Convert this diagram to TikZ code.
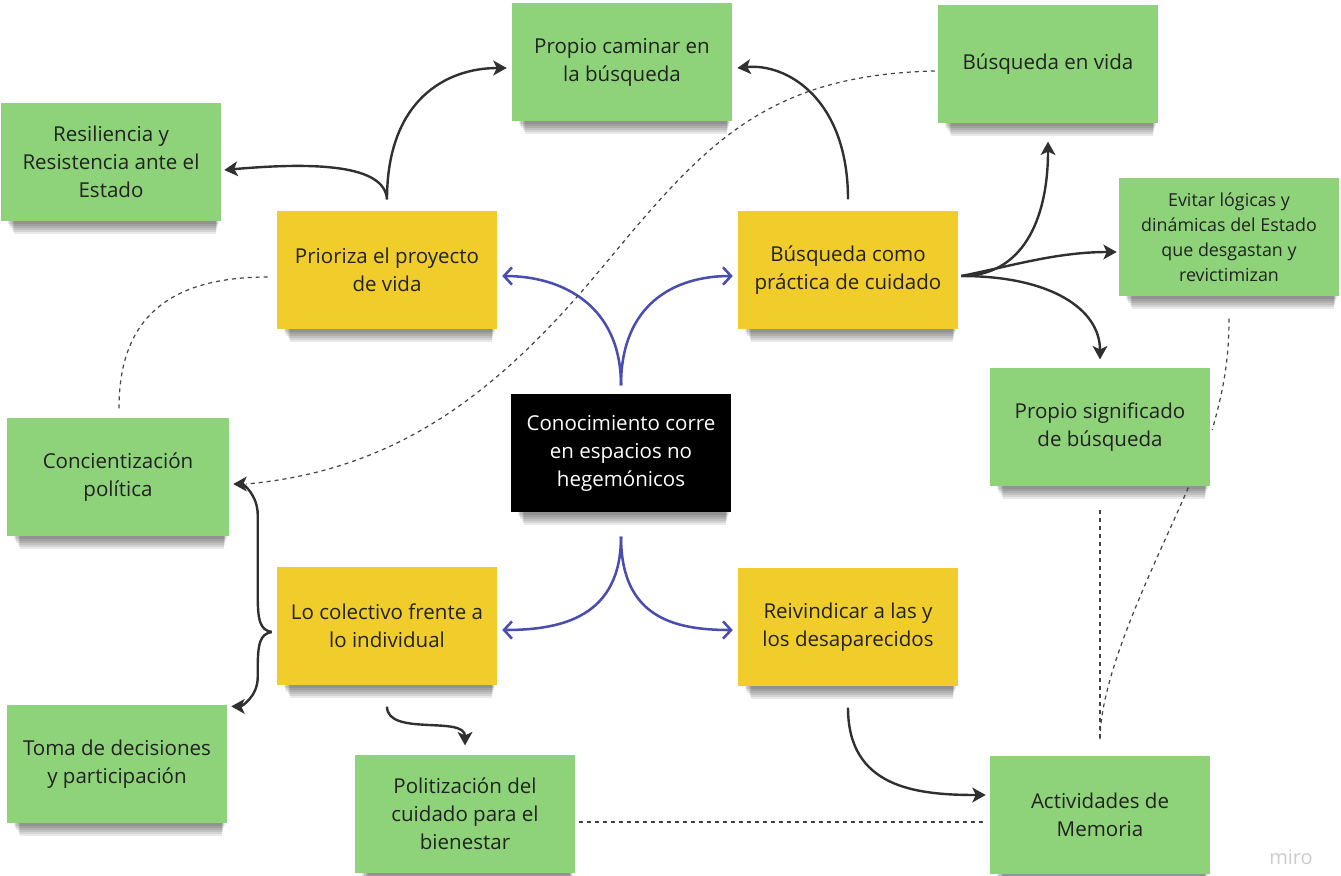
\documentclass[tikz,border=0pt]{standalone}
\usepackage{fontspec}
\setmainfont{Open Sans}
\usetikzlibrary{arrows.meta,calc}
\definecolor{stickygreen}{HTML}{8ED27A}
\definecolor{stickyyellow}{HTML}{F1CD2C}
\definecolor{textdark}{HTML}{222222}
\definecolor{arrowblue}{HTML}{4A4DB0}
\definecolor{arrowdark}{HTML}{303030}
\definecolor{dashgrey}{HTML}{444444}
\pgfdeclarelayer{paper}
\pgfdeclarelayer{background}
\pgfsetlayers{paper,background,main}
\begin{document}
\begin{tikzpicture}[x=0.75pt,y=-0.75pt]
\tikzset{
  card/.style={minimum width=165pt, minimum height=89pt, inner sep=0pt, align=center,
    text=textdark, font=\fontsize{15.4}{21}\selectfont},
  gcard/.style={card, fill=stickygreen},
  ycard/.style={card, fill=stickyyellow},
  kcard/.style={card, fill=black, text=white},
  bluearr/.style={draw=arrowblue, line width=1.9pt, -{Straight Barb[length=6pt,width=13pt,line width=1.9pt]}},
  darkarr/.style={draw=arrowdark, line width=1.8pt, -{Stealth[length=10pt,width=11pt,inset=2.5pt]}},
  dashline/.style={draw=dashgrey, line width=0.9pt, dash pattern=on 3pt off 3pt},
  shadowstrip/.style={fill=black, opacity=0.085},
}
\begin{pgfonlayer}{paper}
\fill[white] (0,0) rectangle (1341,875);
\end{pgfonlayer}
\useasboundingbox (0,0) rectangle (1341,875);

% nodes
\node[gcard] (pc) at (622,62) {Propio caminar en\\la búsqueda};
\node[gcard] (bv) at (1048,64) {Búsqueda en vida};
\node[gcard] (re) at (111,162) {Resiliencia y\\Resistencia ante el\\Estado};
\node[ycard] (pr) at (387,270) {Prioriza el proyecto\\de vida};
\node[ycard] (bc) at (848,270) {Búsqueda como\\práctica de cuidado};
\node[gcard, font=\fontsize{13.4}{18.75}\selectfont] (ev) at (1229,237) {Evitar lógicas y\\dinámicas del Estado\\que desgastan y\\revictimizan};
\node[kcard] (co) at (621,453) {Conocimiento corre\\en espacios no\\hegemónicos};
\node[gcard] (ps) at (1100,427) {Propio significado\\de búsqueda};
\node[gcard, minimum width=166.5pt] (ci) at (118,477) {Concientización\\política};
\node[ycard] (lc) at (387,626) {Lo colectivo frente a\\lo individual};
\node[ycard] (rd) at (848,627) {Reivindicar a las y\\los desaparecidos};
\node[gcard] (td) at (117,764) {Toma de decisiones\\y participación};
\node[gcard] (po) at (465,814) {Politización del\\cuidado para el\\bienestar};
\node[gcard] (ac) at (1100,815) {Actividades de\\Memoria};
\node[text=gray!40, font=\fontsize{15}{17}\selectfont] (miro) at (1291,857) {miro};

% shadows under the cards
\begin{pgfonlayer}{background}
\foreach \n in {pc,bv,re,pr,bc,ev,co,ps,ci,lc,rd,td,po,ac}{
  \foreach \k in {2,4,6,8,10,12}{
    \fill[shadowstrip] ($(\n.south west)+(6+0.6*\k,-2)$) rectangle ($(\n.south east)+(-2-0.3*\k,\k)$);
  }
}
\end{pgfonlayer}

% blue connectors
\draw[bluearr] ($(co.north)+(0,-8)$) .. controls +(0,-80) and +(60,0) .. ($(pr.east)+(5,6)$);
\draw[bluearr] ($(co.north)+(0,-8)$) .. controls +(0,-80) and +(-60,0) .. ($(bc.west)+(-5,6)$);
\draw[bluearr] ($(co.south)+(0,24)$) .. controls +(0,80) and +(60,0) .. ($(lc.east)+(5,4)$);
\draw[bluearr] ($(co.south)+(0,24)$) .. controls +(0,80) and +(-60,0) .. ($(rd.west)+(-5,3)$);

% dark connectors
\draw[darkarr] ($(pr.north)+(0,-11)$) .. controls +(-2,-35) and +(90,-8) .. ($(re.east)+(3,8)$);
\draw[darkarr] ($(pr.north)+(0,-11)$) .. controls +(0,-100) and +(-60,0) .. ($(pc.west)+(-5,6)$);
\draw[darkarr] ($(bc.north)+(0,-11)$) .. controls +(0,-100) and +(50,-5) .. ($(pc.east)+(5,6)$);
\draw[darkarr] ($(bc.east)+(3,6)$) .. controls +(60,0) and +(0,80) .. ($(bv.south)+(0,18)$);
\draw[darkarr] ($(bc.east)+(3,6)$) .. controls +(50,-10) and +(-60,0) .. ($(ev.west)+(-2,15)$);
\draw[darkarr] ($(bc.east)+(3,6)$) .. controls +(90,0) and +(0,-50) .. ($(ps.north)+(0,-8)$);
\coordinate (brace) at ($(lc.west)+(-5,6)$);
\draw[darkarr] (brace) .. controls +(-12,-2) and +(0,25) .. ++(-14,-37) -- ++(0,-80) .. controls +(0,-20) and +(10,0) .. ($(ci.east)+(4,7)$);
\draw[darkarr] (brace) .. controls +(-12,2) and +(0,-25) .. ++(-14,37) -- ++(0,8) .. controls +(0,20) and +(10,0) .. ($(td.north east)+(4,2)$);
\draw[darkarr] ($(lc.south)+(0,21)$) .. controls +(0,30) and +(0,-30) .. ($(po.north)+(0,-9)$);
\draw[darkarr] ($(rd.south)+(0,21)$) .. controls +(0,80) and +(-70,0) .. ($(ac.west)+(-4,-20)$);

% dashed connectors
\draw[dashline] ($(bv.west)+(-3,7)$) .. controls (760,75) and (700,150) .. (600,270) .. controls (500,390) and (400,470) .. ($(ci.east)+(17,7)$);
\draw[dashline] ($(pr.west)+(-9,7)$) .. controls +(-110,0) and +(0,-80) .. ($(ci.north)+(1,-9)$);
\draw[dashline] ($(ev.south)+(0,22)$) .. controls +(0,50) and +(8,-30) .. ($(ps.east)+(2,3)$);
\coordinate (acin) at ($(ac.north)+(0,-15)$);
\draw[dashline] ($(ps.south east)+(-22,1)$) .. controls +(-30,70) and +(0,-70) .. (acin);
\draw[dashline] ($(ps.south)+(0,23)$) -- (acin);
\draw[dashline] ($(po.east)+(4,8)$) -- ($(ac.west)+(-5,7)$);
\end{tikzpicture}
\end{document}
